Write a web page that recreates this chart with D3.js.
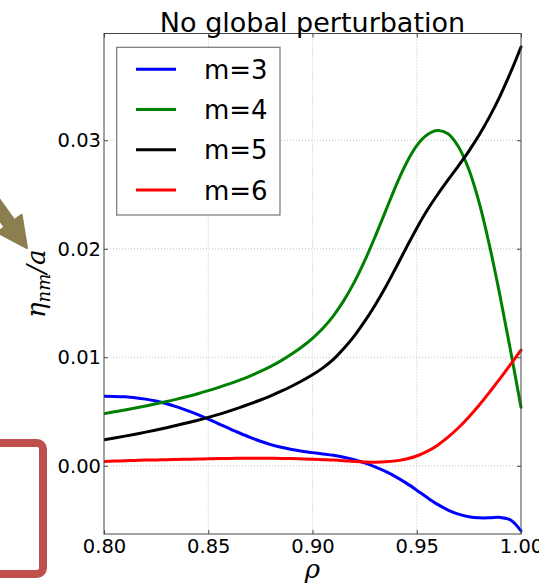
<!DOCTYPE html>
<html>
<head>
<meta charset="utf-8">
<script src="https://cdn.jsdelivr.net/npm/d3@7"></script>
<style>
  html, body { margin: 0; padding: 0; background: #fff; overflow: hidden; }
  svg { display: block; }
  text { font-family: "DejaVu Sans", sans-serif; fill: #000; }
</style>
</head>
<body>
<svg id="chart" width="539" height="583"></svg>
<script>
// Normalised radius grid
const rho = [
  0.800, 0.805, 0.810, 0.815, 0.820, 0.825, 0.830, 0.835, 0.840, 0.845,
  0.850, 0.855, 0.860, 0.865, 0.870, 0.875, 0.880, 0.885, 0.890, 0.895,
  0.900, 0.905, 0.910, 0.915, 0.920, 0.925, 0.930, 0.935, 0.940, 0.945,
  0.950, 0.955, 0.960, 0.965, 0.970, 0.975, 0.980, 0.985, 0.990, 0.995, 1.000
];

// Displacement amplitude eta_nm / a for each poloidal mode number
const m3 = [
  0.00640, 0.00639, 0.00635, 0.00627, 0.00614, 0.00596, 0.00572, 0.00543, 0.00509, 0.00471,
  0.00430, 0.00387, 0.00344, 0.00302, 0.00262, 0.00226, 0.00195, 0.00170, 0.00150, 0.00134,
  0.00121, 0.00109, 0.00096, 0.00079, 0.00056, 0.00026, -0.00010, -0.00052, -0.00102, -0.00160,
  -0.00225, -0.00293, -0.00356, -0.00408, -0.00446, -0.00470, -0.00480, -0.00480, -0.00476, -0.00500, -0.00600
];
const m4 = [
  0.00480, 0.00497, 0.00514, 0.00532, 0.00551, 0.00571, 0.00592, 0.00614, 0.00638, 0.00664,
  0.00692, 0.00722, 0.00754, 0.00789, 0.00827, 0.00869, 0.00916, 0.00969, 0.01029, 0.01097,
  0.01175, 0.01267, 0.01382, 0.01522, 0.01690, 0.01888, 0.02110, 0.02345, 0.02580, 0.02788,
  0.02950, 0.03050, 0.03090, 0.03060, 0.02940, 0.02730, 0.02420, 0.02020, 0.01560, 0.01060, 0.00540
];
const m5 = [
  0.00240, 0.00256, 0.00273, 0.00291, 0.00310, 0.00330, 0.00351, 0.00373, 0.00396, 0.00420,
  0.00446, 0.00474, 0.00504, 0.00536, 0.00570, 0.00606, 0.00645, 0.00687, 0.00733, 0.00783,
  0.00838, 0.00902, 0.00980, 0.01080, 0.01195, 0.01330, 0.01480, 0.01645, 0.01825, 0.02010,
  0.02190, 0.02355, 0.02500, 0.02635, 0.02765, 0.02900, 0.03050, 0.03220, 0.03410, 0.03625, 0.03860
];
const m6 = [
  0.00040, 0.00043, 0.00046, 0.00049, 0.00052, 0.00054, 0.00056, 0.00058, 0.00060, 0.00062,
  0.00064, 0.00066, 0.00068, 0.00069, 0.00070, 0.00070, 0.00069, 0.00068, 0.00066, 0.00063,
  0.00060, 0.00056, 0.00052, 0.00046, 0.00039, 0.00034, 0.00033, 0.00036, 0.00045, 0.00062,
  0.00090, 0.00132, 0.00190, 0.00263, 0.00350, 0.00450, 0.00560, 0.00680, 0.00805, 0.00935, 0.01065
];

const seriesNames = ["m=3", "m=4", "m=5", "m=6"];
const seriesColors = ["#0000ff", "#008000", "#000000", "#ff0000"];
const seriesValues = [m3, m4, m5, m6];

const xTicks = [0.80, 0.85, 0.90, 0.95, 1.00];
const yTicks = [0.00, 0.01, 0.02, 0.03];
const xDomain = [0.8, 1.0];
const yDomain = [-0.00629, 0.03984];
const titleText = "No global perturbation";

// ---- layout ----
const svg = d3.select("#chart");
const plot = { left: 104, right: 521, top: 33.5, bottom: 534 };

const x = d3.scaleLinear().domain(xDomain).range([plot.left, plot.right]);
const y = d3.scaleLinear().domain(yDomain).range([plot.bottom, plot.top]);

// Annotation shapes beside the axes
const arrowColor = "#8b7e4f";
(function drawArrow() {
  const tip = [27, 248];
  const len = Math.hypot(18, 25);
  const u = [18 / len, 25 / len];
  const n = [u[1], -u[0]];
  const base = [tip[0] - 30 * u[0], tip[1] - 30 * u[1]];
  const p = (b, s, t) => [b[0] + s * n[0] + t * u[0], b[1] + s * n[1] + t * u[1]];
  const pts = [tip, p(base, 15, 0), p(base, 6, 0), p(base, 6, -80), p(base, -6, -80), p(base, -6, 0), p(base, -15, 0)];
  svg.append("polygon")
    .attr("points", pts.map(d => d.join(",")).join(" "))
    .attr("fill", arrowColor)
    .attr("stroke", arrowColor)
    .attr("stroke-width", 2)
    .attr("stroke-linejoin", "round");
})();

svg.append("rect")
  .attr("x", -20).attr("y", 443)
  .attr("width", 63).attr("height", 131)
  .attr("rx", 6)
  .attr("fill", "none")
  .attr("stroke", "#c0504d")
  .attr("stroke-width", 8);

// ---- grid ----
const grid = svg.append("g").attr("stroke", "#b5b5b5").attr("stroke-width", 0.8).attr("stroke-dasharray", "1,2");
grid.selectAll("line.gx").data(xTicks.filter(d => d > xDomain[0] && d < xDomain[1])).join("line")
  .attr("x1", d => x(d)).attr("x2", d => x(d))
  .attr("y1", plot.top).attr("y2", plot.bottom);
grid.selectAll("line.gy").data(yTicks).join("line")
  .attr("y1", d => y(d)).attr("y2", d => y(d))
  .attr("x1", plot.left).attr("x2", plot.right);

// ---- curves ----
const clipId = "plot-clip";
svg.append("clipPath").attr("id", clipId).append("rect")
  .attr("x", plot.left).attr("y", plot.top - 2)
  .attr("width", plot.right - plot.left + 2).attr("height", plot.bottom - plot.top + 4);

const line = d3.line()
  .x(d => x(d[0]))
  .y(d => y(d[1]))
  .curve(d3.curveCatmullRom.alpha(0.5));

svg.append("g").attr("clip-path", `url(#${clipId})`)
  .selectAll("path").data(seriesValues).join("path")
  .attr("d", vals => line(rho.map((r, i) => [r, vals[i]])))
  .attr("fill", "none")
  .attr("stroke", (d, i) => seriesColors[i])
  .attr("stroke-width", 3)
  .attr("stroke-linejoin", "round")
  .attr("stroke-linecap", "round");

// ---- axes ----
const frameColor = "#444";
const fmt = d3.format(".2f");

const xAxis = svg.append("g")
  .attr("transform", `translate(0,${plot.bottom})`)
  .call(d3.axisBottom(x).tickValues(xTicks).tickFormat(fmt).tickSize(-4).tickPadding(5));
const yAxis = svg.append("g")
  .attr("transform", `translate(${plot.left},0)`)
  .call(d3.axisLeft(y).tickValues(yTicks).tickFormat(fmt).tickSize(-4).tickPadding(3));
const xAxisTop = svg.append("g")
  .attr("transform", `translate(0,${plot.top})`)
  .call(d3.axisTop(x).tickValues(xTicks).tickFormat("").tickSize(-4));
const yAxisRight = svg.append("g")
  .attr("transform", `translate(${plot.right},0)`)
  .call(d3.axisRight(y).tickValues(yTicks).tickFormat("").tickSize(-4));

[xAxis, yAxis, xAxisTop, yAxisRight].forEach(g => {
  g.select(".domain").remove();
  g.selectAll(".tick line").attr("stroke", frameColor);
  g.selectAll(".tick text")
    .style("font-family", "'DejaVu Sans', sans-serif")
    .style("font-size", "19.5px")
    .attr("fill", "#000");
});

svg.append("rect")
  .attr("x", plot.left).attr("y", plot.top)
  .attr("width", plot.right - plot.left).attr("height", plot.bottom - plot.top)
  .attr("fill", "none").attr("stroke", frameColor).attr("stroke-width", 1);

// ---- labels ----
svg.append("text")
  .attr("x", (plot.left + plot.right) / 2).attr("y", 31.5)
  .attr("text-anchor", "middle")
  .style("font-size", "27px")
  .text(titleText);

svg.append("text")
  .attr("x", (plot.left + plot.right) / 2).attr("y", 578)
  .attr("text-anchor", "middle")
  .style("font-family", "'DejaVu Serif', serif")
  .style("font-style", "italic")
  .style("font-size", "26px")
  .text("ρ");

const yLab = svg.append("text")
  .attr("transform", `translate(45,${(plot.top + plot.bottom) / 2}) rotate(-90)`)
  .attr("text-anchor", "middle")
  .style("font-family", "'DejaVu Serif', serif")
  .style("font-style", "italic")
  .style("font-size", "26px");
yLab.append("tspan").text("η");
yLab.append("tspan").attr("dy", 5).style("font-size", "18px").text("nm");
yLab.append("tspan").attr("dy", -5).text("/a");

// ---- legend ----
const legend = svg.append("g");
legend.append("rect")
  .attr("x", 116.7).attr("y", 47.3).attr("width", 163.3).attr("height", 167.7)
  .attr("fill", "#fff").attr("stroke", "#777").attr("stroke-width", 1.2);
const legY = d3.scalePoint().domain(seriesNames).range([69.3, 190]);
const items = legend.selectAll("g.item").data(seriesNames).join("g")
  .attr("transform", d => `translate(0,${legY(d)})`);
items.append("line")
  .attr("x1", 136).attr("x2", 176)
  .attr("stroke", (d, i) => seriesColors[i])
  .attr("stroke-width", 3);
items.append("text")
  .attr("x", 204).attr("y", 9.5)
  .style("font-size", "26px")
  .text(d => d);
</script>
</body>
</html>
